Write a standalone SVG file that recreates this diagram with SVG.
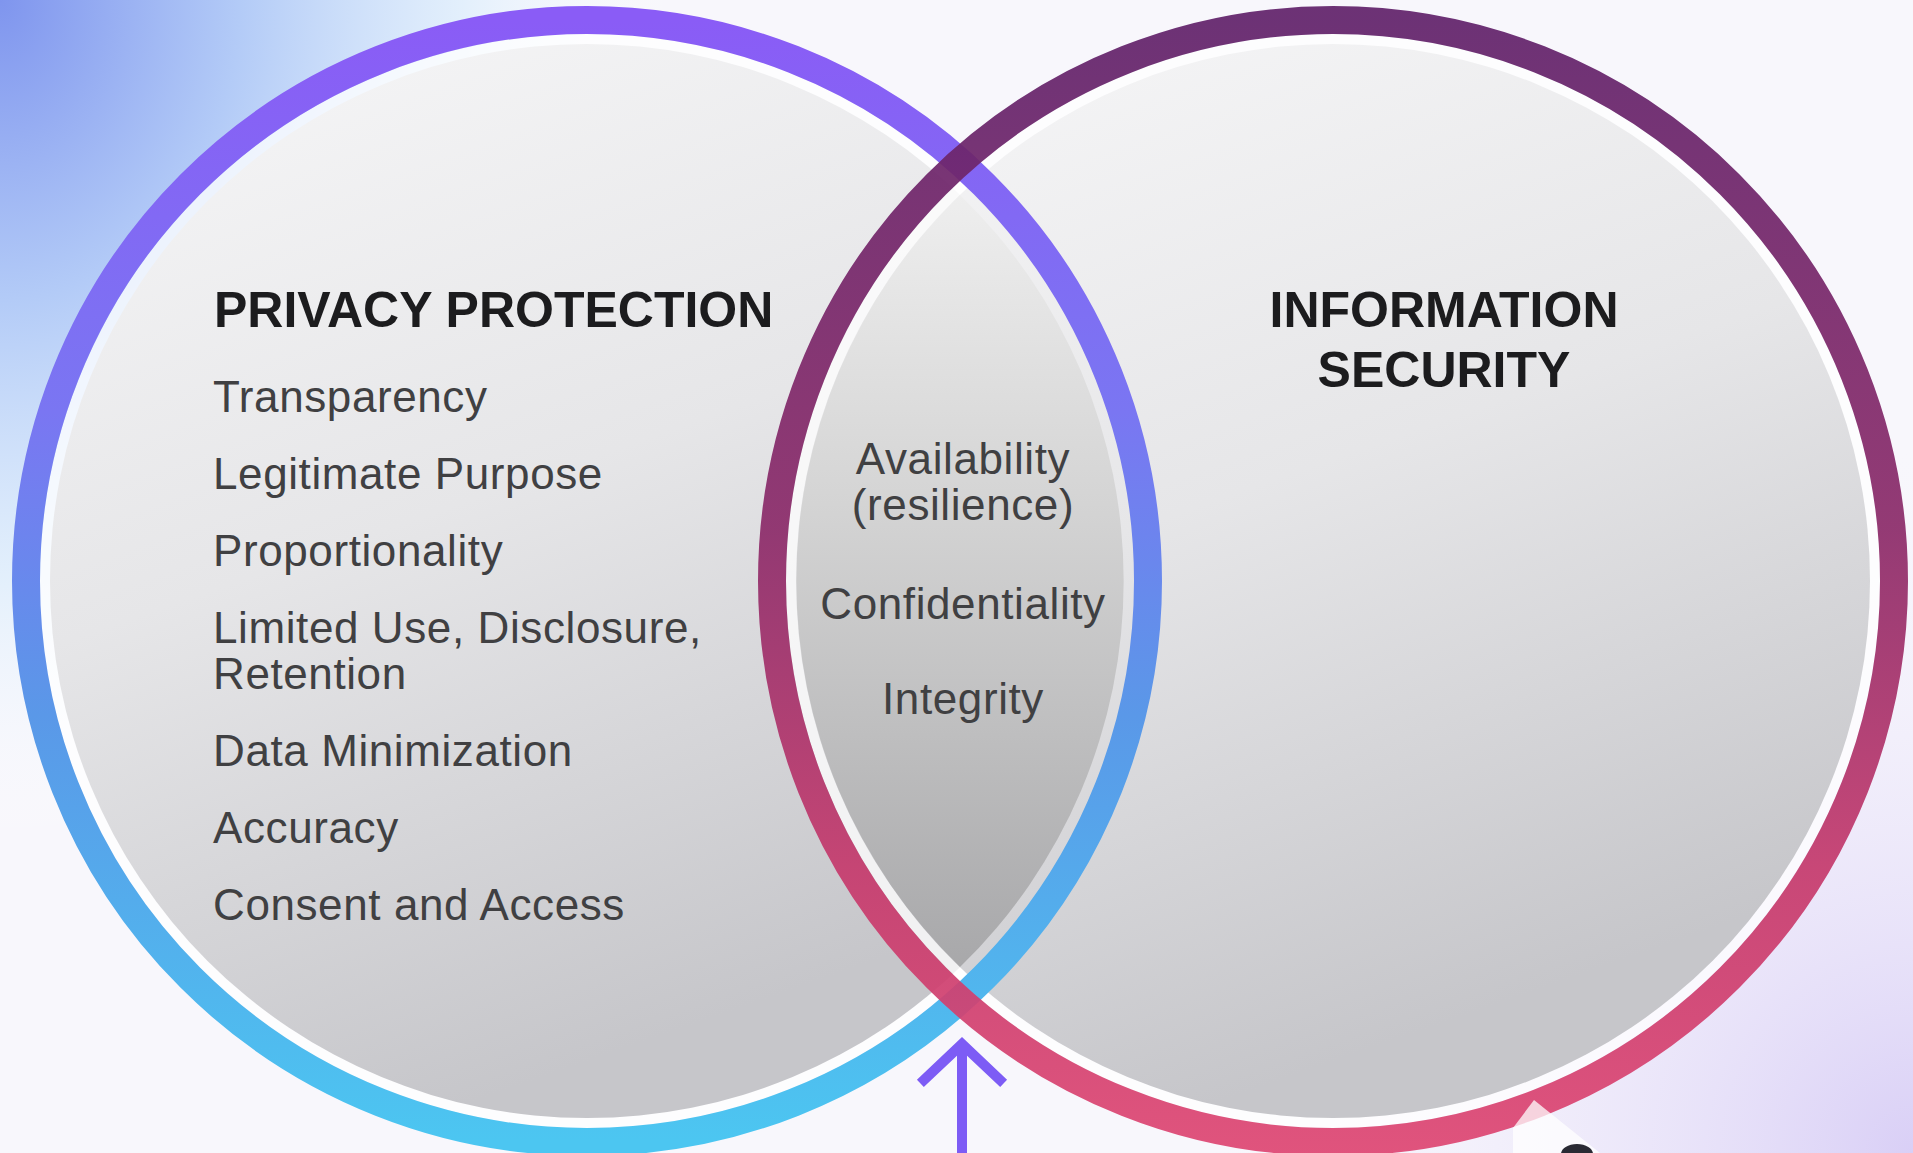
<svg xmlns="http://www.w3.org/2000/svg" width="1913" height="1153" viewBox="0 0 1913 1153">
  <defs>
    <radialGradient id="bgTL" cx="0" cy="0" r="1000" gradientUnits="userSpaceOnUse" gradientTransform="scale(0.8 1)">
      <stop offset="0" stop-color="#7f95ee"/>
      <stop offset="0.3" stop-color="#b3cbf7"/>
      <stop offset="0.58" stop-color="#dcedfc" stop-opacity="0.75"/>
      <stop offset="0.85" stop-color="#ffffff" stop-opacity="0"/>
    </radialGradient>
    <radialGradient id="bgBR" cx="1913" cy="1153" r="700" gradientUnits="userSpaceOnUse">
      <stop offset="0" stop-color="#d9cff6"/>
      <stop offset="1" stop-color="#f4f1fc" stop-opacity="0"/>
    </radialGradient>
    <linearGradient id="ringL" x1="0" y1="20" x2="0" y2="1140" gradientUnits="userSpaceOnUse">
      <stop offset="0" stop-color="#8a5cf6"/>
      <stop offset="0.35" stop-color="#7a76f2"/>
      <stop offset="0.62" stop-color="#5a98e8"/>
      <stop offset="1" stop-color="#4cc6f1"/>
    </linearGradient>
    <linearGradient id="ringR" x1="0" y1="20" x2="0" y2="1150" gradientUnits="userSpaceOnUse">
      <stop offset="0" stop-color="#62236b"/>
      <stop offset="0.45" stop-color="#8c2c6a"/>
      <stop offset="0.75" stop-color="#c53b6d"/>
      <stop offset="1" stop-color="#de4773"/>
    </linearGradient>
    <linearGradient id="discG" x1="0" y1="0" x2="0.35" y2="1">
      <stop offset="0" stop-color="#f7f7f8"/>
      <stop offset="0.5" stop-color="#e6e6e8"/>
      <stop offset="1" stop-color="#c6c6ca"/>
    </linearGradient>
    <linearGradient id="lensG" x1="0" y1="195" x2="0" y2="967" gradientUnits="userSpaceOnUse">
      <stop offset="0" stop-color="#eeeeee"/>
      <stop offset="0.4" stop-color="#d4d4d4"/>
      <stop offset="1" stop-color="#a8a8aa"/>
    </linearGradient>
  </defs>
  <style>
    .band { fill: #ffffff; fill-opacity: 0.75; }
    .disc { fill: url(#discG); }
    .ring { fill: none; stroke-width: 28; }
    .head { font-family: "Liberation Sans", Arial, sans-serif; font-weight: 700; font-size: 50px; fill: #1c1c1e; }
    .item { font-family: "Liberation Sans", Arial, sans-serif; font-size: 44px; letter-spacing: 0.6px; fill: #404042; }
    .mid { text-anchor: middle; }
    .arrow { fill: none; stroke: #7d5cf5; stroke-width: 10; stroke-linecap: square; }
  </style>

  <g id="background">
    <rect x="0" y="0" width="1913" height="1153" fill="#f8f7fc"/>
    <rect x="0" y="0" width="1913" height="1153" fill="url(#bgBR)"/>
    <rect x="0" y="0" width="1913" height="1153" fill="url(#bgTL)"/>
  </g>

  <g id="node-privacy-disc">
    <circle class="band" cx="587" cy="581" r="547"/>
    <circle class="disc" cx="587" cy="581" r="537"/>
  </g>
  <g id="node-security-disc">
    <circle class="band" cx="1333" cy="581" r="547"/>
    <circle class="disc" cx="1333" cy="581" r="537"/>
  </g>
  <g id="node-overlap">
    <path d="M 960 195 A 537 537 0 0 1 960 967 A 537 537 0 0 1 960 195 Z" fill="url(#lensG)"/>
    <text class="item mid" x="963" y="474">Availability</text>
    <text class="item mid" x="963" y="520">(resilience)</text>
    <text class="item mid" x="963" y="619">Confidentiality</text>
    <text class="item mid" x="963" y="714">Integrity</text>
  </g>

  <g id="node-privacy">
    <circle class="ring" cx="587" cy="581" r="561" stroke="url(#ringL)"/>
    <text class="head" x="214" y="327">PRIVACY PROTECTION</text>
    <text class="item" x="213" y="412">Transparency</text>
    <text class="item" x="213" y="489">Legitimate Purpose</text>
    <text class="item" x="213" y="566">Proportionality</text>
    <text class="item" x="213" y="643">Limited Use, Disclosure,</text>
    <text class="item" x="213" y="689">Retention</text>
    <text class="item" x="213" y="766">Data Minimization</text>
    <text class="item" x="213" y="843">Accuracy</text>
    <text class="item" x="213" y="920">Consent and Access</text>
  </g>

  <g id="node-security">
    <circle class="ring" cx="1333" cy="581" r="561" stroke="url(#ringR)" stroke-opacity="0.93"/>
    <text class="head mid" x="1444" y="327" font-size="51">INFORMATION</text>
    <text class="head mid" x="1444" y="387" font-size="51">SECURITY</text>
  </g>

  <g id="connectors">
    <path class="arrow" d="M 962 1048 L 962 1153"/>
    <path class="arrow" d="M 924 1080 L 962 1044 L 1000 1080" stroke-linecap="butt" stroke-linejoin="miter"/>
  </g>

  <g id="corner-fragment">
    <polygon points="1513,1128 1534,1100 1600,1153 1513,1153" fill="#ffffff" fill-opacity="0.75"/>
    <ellipse cx="1577" cy="1154" rx="16" ry="10" fill="#2a2a34"/>
  </g>
</svg>
